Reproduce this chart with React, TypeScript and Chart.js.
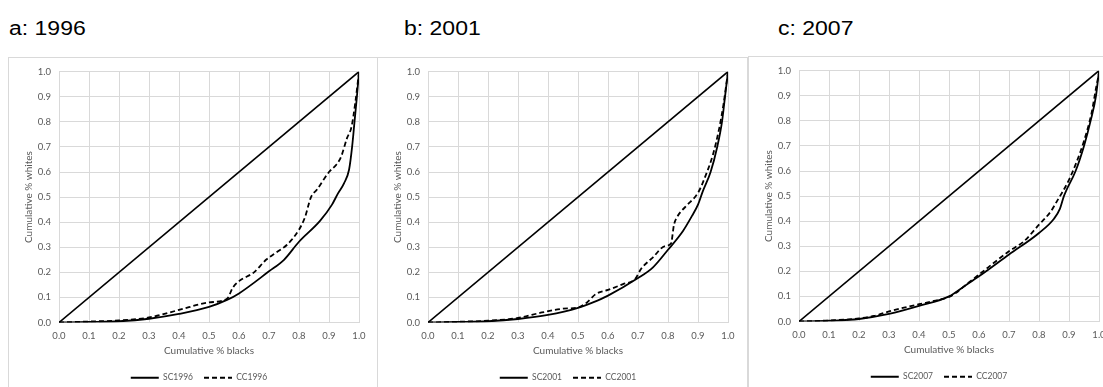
import React, { useEffect, useRef } from 'react';
import { Chart, registerables } from 'chart.js';
Chart.register(...registerables);

// ---------- data ----------
const equalityX = [0, 1];
const equalityY = [0, 1];

const sc1996X = [0, 0.1, 0.2, 0.3, 0.4, 0.5, 0.56, 0.6, 0.7, 0.75, 0.8, 0.87, 0.91, 0.93, 0.95, 0.967, 0.977, 0.985, 0.993, 1.0];
const sc1996Y = [0, 0.002, 0.005, 0.015, 0.034, 0.062, 0.09, 0.116, 0.204, 0.25, 0.322, 0.405, 0.47, 0.515, 0.555, 0.61, 0.7, 0.8, 0.9, 1.0];
const cc1996X = [0, 0.1, 0.2, 0.3, 0.4, 0.5, 0.56, 0.58, 0.6, 0.65, 0.69, 0.725, 0.76, 0.8, 0.82, 0.84, 0.86, 0.9, 0.925, 0.94, 0.96, 0.975, 0.988, 1.0];
const cc1996Y = [0, 0.004, 0.008, 0.02, 0.05, 0.08, 0.095, 0.14, 0.165, 0.2, 0.25, 0.28, 0.31, 0.37, 0.42, 0.5, 0.53, 0.6, 0.63, 0.66, 0.735, 0.78, 0.88, 1.0];

const sc2001X = [0, 0.1, 0.2, 0.3, 0.4, 0.5, 0.55, 0.6, 0.7, 0.75, 0.8, 0.85, 0.88, 0.9, 0.915, 0.942, 0.964, 0.98, 0.99, 1.0];
const sc2001Y = [0, 0.002, 0.005, 0.014, 0.03, 0.058, 0.08, 0.107, 0.177, 0.22, 0.29, 0.365, 0.425, 0.47, 0.52, 0.6, 0.7, 0.8, 0.9, 1.0];
const cc2001X = [0, 0.1, 0.2, 0.3, 0.38, 0.45, 0.5, 0.53, 0.56, 0.6, 0.65, 0.69, 0.71, 0.75, 0.79, 0.81, 0.82, 0.83, 0.86, 0.9, 0.93, 0.95, 0.97, 0.985, 1.0];
const cc2001Y = [0, 0.003, 0.007, 0.018, 0.04, 0.055, 0.06, 0.08, 0.114, 0.13, 0.153, 0.173, 0.213, 0.26, 0.305, 0.315, 0.39, 0.42, 0.464, 0.517, 0.6, 0.67, 0.77, 0.87, 1.0];

const sc2007X = [0, 0.1, 0.2, 0.3, 0.4, 0.5, 0.55, 0.6, 0.7, 0.8, 0.85, 0.87, 0.883, 0.89, 0.922, 0.95, 0.972, 0.99, 1.0];
const sc2007Y = [0, 0.003, 0.01, 0.03, 0.062, 0.1, 0.14, 0.18, 0.267, 0.353, 0.41, 0.45, 0.5, 0.52, 0.6, 0.7, 0.8, 0.9, 1.0];
const cc2007X = [0, 0.1, 0.2, 0.25, 0.3, 0.4, 0.45, 0.5, 0.53, 0.55, 0.6, 0.7, 0.75, 0.8, 0.84, 0.86, 0.88, 0.9, 0.925, 0.95, 0.975, 0.99, 1.0];
const cc2007Y = [0, 0.004, 0.012, 0.022, 0.04, 0.069, 0.082, 0.098, 0.12, 0.14, 0.187, 0.28, 0.32, 0.386, 0.44, 0.48, 0.52, 0.565, 0.635, 0.72, 0.83, 0.93, 0.99];

const axisTicks = [0, 0.1, 0.2, 0.3, 0.4, 0.5, 0.6, 0.7, 0.8, 0.9, 1.0];
const xAxisTitle = 'Cumulative % blacks';
const yAxisTitle = 'Cumulative % whites';

// ---------- styling ----------
const FONT = 'Lato, "Open Sans", sans-serif';
const GRAY = '#595959';
const GRID = '#d9d9d9';
const DASH = [5, 3];

const pts = (xs: number[], ys: number[]) => xs.map((x, i) => ({ x, y: ys[i] }));

// shifts the bottom legend a little to the right, as in the original layout
const legendShift = {
  id: 'legendShift',
  afterLayout(chart: any) {
    if (chart.legend) {
      chart.legend.left += 15;
      chart.legend.right += 15;
    }
  },
};

type PanelProps = {
  title: string;
  year: string;
  boxLeft: number;
  boxTop: number;
  boxWidth: number;
  titleLeft: number;
  scX: number[];
  scY: number[];
  ccX: number[];
  ccY: number[];
};

function Panel(p: PanelProps) {
  const ref = useRef<HTMLCanvasElement | null>(null);
  useEffect(() => {
    if (!ref.current) return;
    const chart = new Chart(ref.current, {
      type: 'scatter',
      plugins: [legendShift],
      data: {
        datasets: [
          {
            label: 'equality',
            data: pts(equalityX, equalityY),
            showLine: true,
            borderColor: '#000',
            borderWidth: 1.6,
            pointRadius: 0,
          },
          {
            label: 'SC' + p.year,
            data: pts(p.scX, p.scY),
            showLine: true,
            borderColor: '#000',
            borderWidth: 1.8,
            pointRadius: 0,
            cubicInterpolationMode: 'monotone',
          },
          {
            label: 'CC' + p.year,
            data: pts(p.ccX, p.ccY),
            showLine: true,
            borderColor: '#000',
            borderWidth: 1.8,
            borderDash: DASH,
            pointRadius: 0,
            cubicInterpolationMode: 'monotone',
          },
        ] as any,
      },
      options: {
        responsive: false,
        animation: false,
        events: [],
        layout: { padding: { left: 0, right: 18, top: 12, bottom: 6 } },
        plugins: {
          tooltip: { enabled: false },
          legend: {
            position: 'bottom',
            labels: {
              usePointStyle: true,
              pointStyleWidth: 28,
              boxHeight: 9,
              padding: 11,
              color: GRAY,
              font: { family: FONT, size: 8.5 },
              generateLabels: () => [
                { text: 'SC' + p.year, strokeStyle: '#000', fillStyle: '#000', lineWidth: 1.8, lineDash: [], pointStyle: 'line', fontColor: GRAY, datasetIndex: 1, hidden: false } as any,
                { text: 'CC' + p.year, strokeStyle: '#000', fillStyle: '#000', lineWidth: 1.8, lineDash: [5, 3], pointStyle: 'line', fontColor: GRAY, datasetIndex: 2, hidden: false } as any,
              ],
            },
          },
        },
        scales: {
          x: {
            type: 'linear',
            min: 0,
            max: 1,
            afterBuildTicks: (s: any) => { s.ticks = axisTicks.map((v) => ({ value: v })); },
            ticks: {
              callback: (v: any) => Number(v).toFixed(1),
              color: GRAY,
              font: { family: FONT, size: 9.5 },
              padding: 8,
              maxRotation: 0,
            },
            grid: { color: GRID, drawTicks: false, lineWidth: 1 },
            border: { color: GRID },
            title: {
              display: true,
              text: xAxisTitle,
              color: GRAY,
              font: { family: FONT, size: 10 },
              padding: { top: 0, bottom: 6 },
            },
            afterFit: (s: any) => { s.height = 40; },
          },
          y: {
            type: 'linear',
            min: 0,
            max: 1,
            afterBuildTicks: (s: any) => { s.ticks = axisTicks.map((v) => ({ value: v })); },
            ticks: {
              callback: (v: any) => Number(v).toFixed(1),
              color: GRAY,
              font: { family: FONT, size: 9.5 },
              padding: 8,
            },
            grid: { color: GRID, drawTicks: false, lineWidth: 1 },
            border: { color: GRID },
            title: {
              display: true,
              text: yAxisTitle,
              color: GRAY,
              font: { family: FONT, size: 10 },
              padding: { top: 14, bottom: 0 },
            },
            afterFit: (s: any) => { s.width = 50; },
          },
        },
      } as any,
    });
    return () => chart.destroy();
  }, []);

  return (
    <>
      <div
        style={{
          position: 'absolute',
          left: p.titleLeft,
          top: 18,
          fontFamily: '"Liberation Sans", Arial, sans-serif',
          fontSize: 20,
          lineHeight: '20px',
          color: '#000',
          whiteSpace: 'nowrap',
          transform: 'scaleX(1.15)',
          transformOrigin: 'left top',
        }}
      >
        {p.title}
      </div>
      <div
        style={{
          position: 'absolute',
          left: p.boxLeft,
          top: p.boxTop,
          width: p.boxWidth,
          height: 345,
          border: '1px solid #d9d9d9',
          background: '#fff',
        }}
      >
        <canvas ref={ref} width={368} height={340} style={{ display: 'block', width: 368, height: 340 }} />
      </div>
    </>
  );
}

export default function App() {
  return (
    <div style={{ position: 'absolute', left: 0, top: 0, width: 1103, height: 387, overflow: 'hidden', background: '#fff' }}>
      <Panel title="a: 1996" year="1996" boxLeft={8} boxTop={57} boxWidth={368} titleLeft={9} scX={sc1996X} scY={sc1996Y} ccX={cc1996X} ccY={cc1996Y} />
      <Panel title="b: 2001" year="2001" boxLeft={377} boxTop={57} boxWidth={369} titleLeft={404} scX={sc2001X} scY={sc2001Y} ccX={cc2001X} ccY={cc2001Y} />
      <Panel title="c: 2007" year="2007" boxLeft={748} boxTop={56} boxWidth={368} titleLeft={778} scX={sc2007X} scY={sc2007Y} ccX={cc2007X} ccY={cc2007Y} />
    </div>
  );
}
